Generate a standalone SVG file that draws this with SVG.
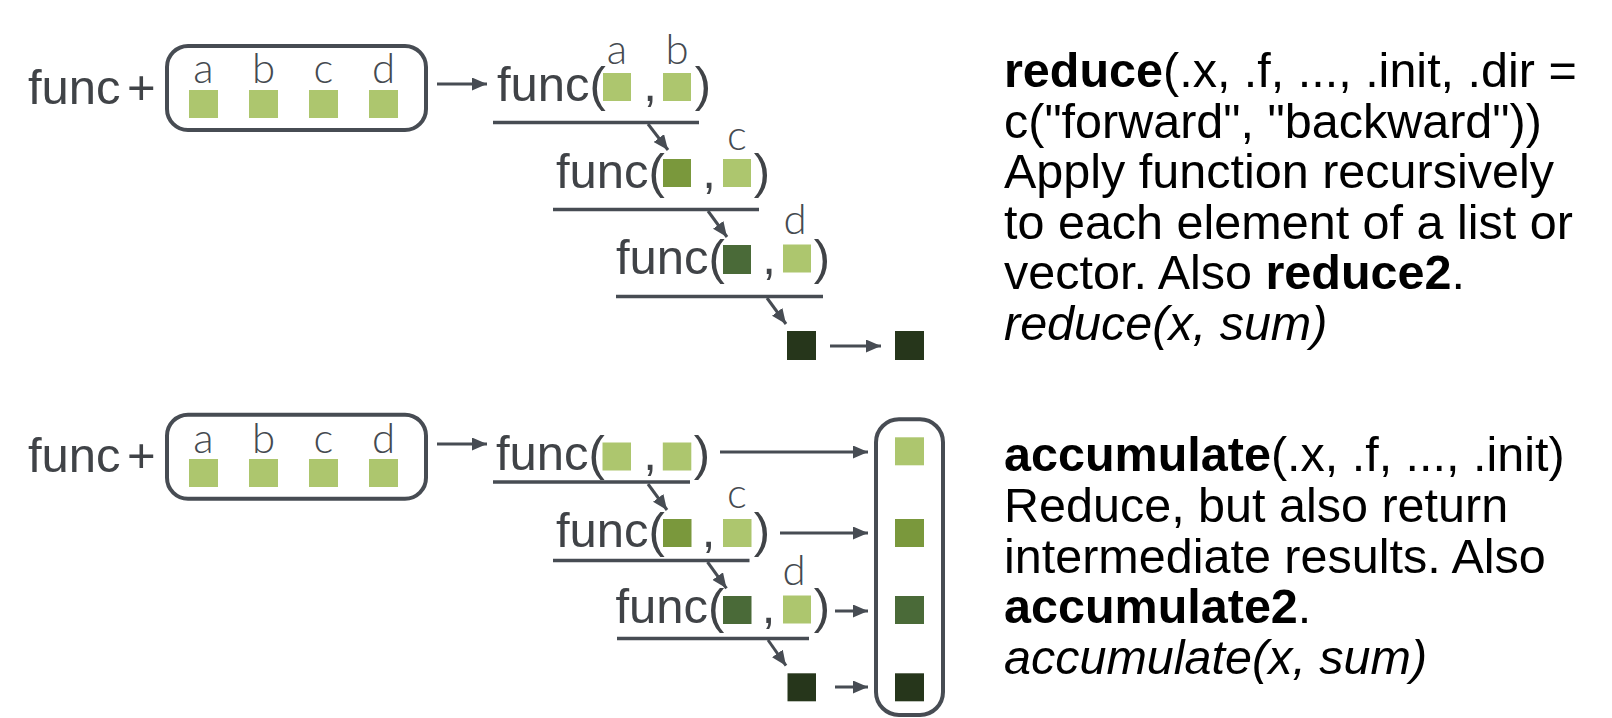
<svg xmlns="http://www.w3.org/2000/svg" width="1612" height="718" viewBox="0 0 1612 718">
<style>
.fn{font-family:"Liberation Sans",Arial,sans-serif;font-size:49px;fill:#404347}
.pn{font-family:"Liberation Sans",Arial,sans-serif;font-size:49px;fill:#404347;text-anchor:middle}
.lb{font-family:Lato,"Liberation Sans",sans-serif;font-weight:300;font-size:42px;fill:#454a50;text-anchor:middle}
.desc{font-family:"Liberation Sans",Arial,sans-serif;font-size:48.5px;fill:#000}
.b{font-weight:bold}
.i{font-style:italic}
.box{fill:none;stroke:#474c53;stroke-width:4}
.ul{stroke:#474c53;stroke-width:3.5}
.c1{fill:#adc66e}
.c2{fill:#7a983c}
.c3{fill:#4a6a38}
.c4{fill:#26361b}
.con line{stroke:#474c53;stroke-width:3;marker-end:url(#ah)}
</style>
<defs>
<marker id="ah" markerUnits="userSpaceOnUse" markerWidth="15" markerHeight="13" refX="15" refY="6.5" orient="auto">
<path d="M0,0 L15,6.5 L0,13 z" fill="#474c53"/>
</marker>
</defs>
<rect width="1612" height="718" fill="#fff"/>

<!-- ===== reduce ===== -->
<g id="reduce-input">
<text class="fn" x="28" y="104">func</text>
<text class="fn" x="127" y="104">+</text>
<rect class="box" x="167" y="46" width="259" height="84" rx="21"/>
<text class="lb" x="203.5" y="83">a</text>
<text class="lb" x="263.5" y="83">b</text>
<text class="lb" x="323.5" y="83">c</text>
<text class="lb" x="383.5" y="83">d</text>
<rect class="c1" x="189" y="90" width="29" height="28"/>
<rect class="c1" x="249" y="90" width="29" height="28"/>
<rect class="c1" x="309" y="90" width="29" height="28"/>
<rect class="c1" x="369" y="90" width="29" height="28"/>
</g>
<g id="reduce-step1">
<text class="fn" x="497" y="101">func(</text>
<rect class="c1" x="603" y="73" width="28" height="28"/>
<text class="pn" x="650" y="101">,</text>
<rect class="c1" x="663" y="73" width="28" height="28"/>
<text class="pn" x="703" y="101">)</text>
<text class="lb" x="617" y="64">a</text>
<text class="lb" x="677" y="64">b</text>
<line class="ul" x1="493" y1="122.5" x2="699" y2="122.5"/>
</g>
<g id="reduce-step2">
<text class="fn" x="556" y="187.5">func(</text>
<rect class="c2" x="663" y="159" width="28" height="28"/>
<text class="pn" x="709" y="187.5">,</text>
<rect class="c1" x="723" y="159" width="28" height="28"/>
<text class="pn" x="762" y="187.5">)</text>
<text class="lb" x="737" y="150">c</text>
<line class="ul" x1="553" y1="209.5" x2="759" y2="209.5"/>
</g>
<g id="reduce-step3">
<text class="fn" x="616" y="274">func(</text>
<rect class="c3" x="723" y="245" width="28" height="29"/>
<text class="pn" x="769" y="274">,</text>
<rect class="c1" x="783" y="244.5" width="28" height="28"/>
<text class="pn" x="822" y="274">)</text>
<text class="lb" x="795" y="234">d</text>
<line class="ul" x1="616" y1="296.5" x2="823" y2="296.5"/>
</g>
<g id="reduce-result">
<rect class="c4" x="787" y="331" width="29" height="29"/>
<rect class="c4" x="895" y="331" width="29" height="29"/>
</g>
<g id="reduce-desc">
<text class="desc" x="1004" y="87"><tspan class="b">reduce</tspan>(.x, .f, ..., .init, .dir =</text>
<text class="desc" x="1004" y="137.5">c("forward", "backward"))</text>
<text class="desc" x="1004" y="188">Apply function recursively</text>
<text class="desc" x="1004" y="238.5">to each element of a list or</text>
<text class="desc" x="1004" y="289">vector. Also <tspan class="b">reduce2</tspan>.</text>
<text class="desc i" x="1004" y="339.5">reduce(x, sum)</text>
</g>

<!-- ===== accumulate ===== -->
<g id="accumulate-input">
<text class="fn" x="28" y="472">func</text>
<text class="fn" x="127" y="472">+</text>
<rect class="box" x="167" y="414.7" width="259" height="84" rx="21"/>
<text class="lb" x="203.5" y="453">a</text>
<text class="lb" x="263.5" y="453">b</text>
<text class="lb" x="323.5" y="453">c</text>
<text class="lb" x="383.5" y="453">d</text>
<rect class="c1" x="189" y="459" width="29" height="28"/>
<rect class="c1" x="249" y="459" width="29" height="28"/>
<rect class="c1" x="309" y="459" width="29" height="28"/>
<rect class="c1" x="369" y="459" width="29" height="28"/>
</g>
<g id="accumulate-step1">
<text class="fn" x="496" y="470">func(</text>
<rect class="c1" x="602.5" y="442.5" width="28.5" height="28"/>
<text class="pn" x="650" y="470">,</text>
<rect class="c1" x="662.8" y="442.5" width="28.5" height="28"/>
<text class="pn" x="702" y="470">)</text>
<line class="ul" x1="493" y1="482" x2="690" y2="482"/>
</g>
<g id="accumulate-step2">
<text class="fn" x="556" y="546.5">func(</text>
<rect class="c2" x="663" y="519" width="28.5" height="28"/>
<text class="pn" x="708.5" y="546.5">,</text>
<rect class="c1" x="723" y="519" width="28.5" height="28"/>
<text class="pn" x="762" y="546.5">)</text>
<text class="lb" x="737" y="507.5">c</text>
<line class="ul" x1="553" y1="560.5" x2="749.5" y2="560.5"/>
</g>
<g id="accumulate-step3">
<text class="fn" x="615.5" y="623">func(</text>
<rect class="c3" x="723" y="596" width="28.5" height="28"/>
<text class="pn" x="768.5" y="623">,</text>
<rect class="c1" x="783" y="595.5" width="28" height="28"/>
<text class="pn" x="822" y="623">)</text>
<text class="lb" x="794" y="585">d</text>
<line class="ul" x1="617" y1="638.5" x2="809" y2="638.5"/>
</g>
<g id="accumulate-last">
<rect class="c4" x="787.5" y="673.3" width="28.5" height="28"/>
</g>
<g id="accumulate-output">
<rect class="box" x="876" y="419.3" width="67" height="295.7" rx="23"/>
<rect class="c1" x="895" y="437.3" width="29" height="28"/>
<rect class="c2" x="895" y="519" width="29" height="28"/>
<rect class="c3" x="895" y="596" width="29" height="28"/>
<rect class="c4" x="895" y="673.3" width="29" height="28"/>
</g>
<g id="accumulate-desc">
<text class="desc" x="1004" y="471"><tspan class="b">accumulate</tspan>(.x, .f, ..., .init)</text>
<text class="desc" x="1004" y="522">Reduce, but also return</text>
<text class="desc" x="1004" y="572.5">intermediate results. Also</text>
<text class="desc" x="1004" y="623"><tspan class="b">accumulate2</tspan>.</text>
<text class="desc i" x="1004" y="674">accumulate(x, sum)</text>
</g>

<g id="connectors" class="con">
<line x1="437" y1="84" x2="487" y2="84"/>
<line x1="648" y1="124" x2="668" y2="150"/>
<line x1="708" y1="211" x2="727" y2="237"/>
<line x1="767" y1="298" x2="786" y2="324"/>
<line x1="830" y1="346" x2="881" y2="346"/>
<line x1="437" y1="444" x2="487" y2="444"/>
<line x1="720" y1="452" x2="868" y2="452"/>
<line x1="648" y1="484" x2="667" y2="510"/>
<line x1="780" y1="533" x2="868" y2="533"/>
<line x1="707.5" y1="562" x2="726.5" y2="588.3"/>
<line x1="835" y1="611" x2="868" y2="611"/>
<line x1="768" y1="640" x2="786" y2="665.7"/>
<line x1="835" y1="687" x2="868" y2="687"/>
</g>
</svg>
